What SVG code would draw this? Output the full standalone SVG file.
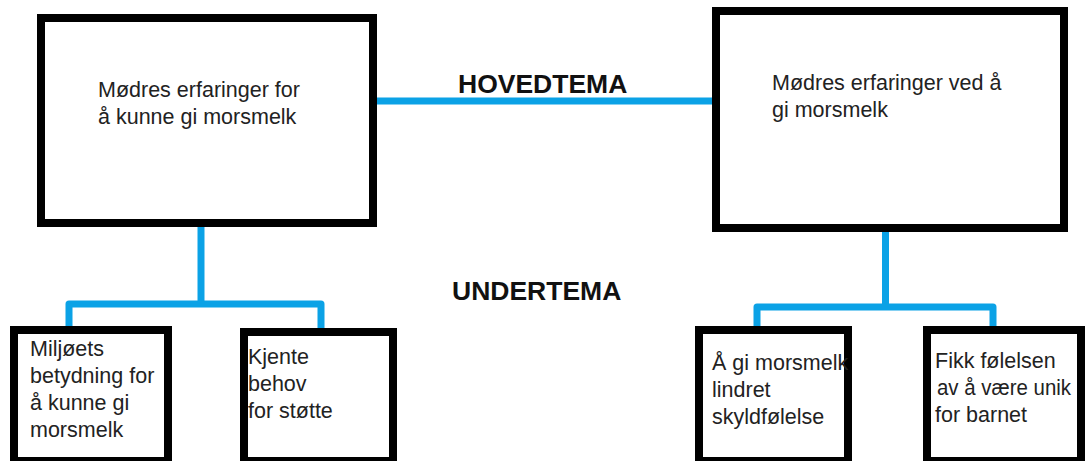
<svg xmlns="http://www.w3.org/2000/svg" width="1085" height="461" viewBox="0 0 1085 461">
<style>
.box{fill:#fff;stroke:#000;stroke-width:8}
.conn{fill:none;stroke:#0BA2E6;stroke-width:7;stroke-linejoin:round}
.t{font-family:"Liberation Sans",Arial,sans-serif;font-size:21.5px;fill:#222}
.h{font-family:"Liberation Sans",Arial,sans-serif;font-size:26.5px;font-weight:bold;fill:#111}
</style>
<rect width="1085" height="461" fill="#fff"/>
<g id="connectors">
<line class="conn" x1="377" y1="101" x2="712" y2="101"/>
<polyline class="conn" points="69,327 69,304 321,304 321,329"/>
<line class="conn" x1="201" y1="227" x2="201" y2="304"/>
<polyline class="conn" points="757,327 757,307 993,307 993,327"/>
<line class="conn" x1="885.5" y1="232" x2="885.5" y2="307"/>
</g>
<g id="labels">
<text class="h" x="458" y="93">HOVEDTEMA</text>
<text class="h" x="452" y="300">UNDERTEMA</text>
</g>
<g id="main1">
<rect class="box" x="41" y="18" width="332" height="205"/>
<text class="t" x="98" y="97">Mødres erfaringer for</text>
<text class="t" x="98" y="124">å kunne gi morsmelk</text>
</g>
<g id="main2">
<rect class="box" x="716" y="11" width="348" height="217"/>
<text class="t" x="772" y="90">Mødres erfaringer ved å</text>
<text class="t" x="772" y="117">gi morsmelk</text>
</g>
<g id="sub1">
<rect class="box" x="14" y="330" width="154" height="131"/>
<text class="t" x="30" y="356">Miljøets</text>
<text class="t" x="30" y="383">betydning for</text>
<text class="t" x="30" y="410">å kunne gi</text>
<text class="t" x="30" y="437">morsmelk</text>
</g>
<g id="sub2">
<rect class="box" x="244" y="332" width="149" height="129"/>
<text class="t" x="248" y="364">Kjente</text>
<text class="t" x="248" y="391">behov</text>
<text class="t" x="248" y="418">for støtte</text>
</g>
<g id="sub3">
<rect class="box" x="699" y="330" width="149" height="131"/>
<text class="t" x="712" y="370">Å gi morsmelk</text>
<text class="t" x="712" y="397">lindret</text>
<text class="t" x="712" y="424">skyldfølelse</text>
</g>
<g id="sub4">
<rect class="box" x="927" y="330" width="154" height="131"/>
<text class="t" x="935" y="368">Fikk følelsen</text>
<text class="t" x="937" y="395" textLength="134" lengthAdjust="spacingAndGlyphs">av å være unik</text>
<text class="t" x="935" y="422">for barnet</text>
</g>
</svg>
